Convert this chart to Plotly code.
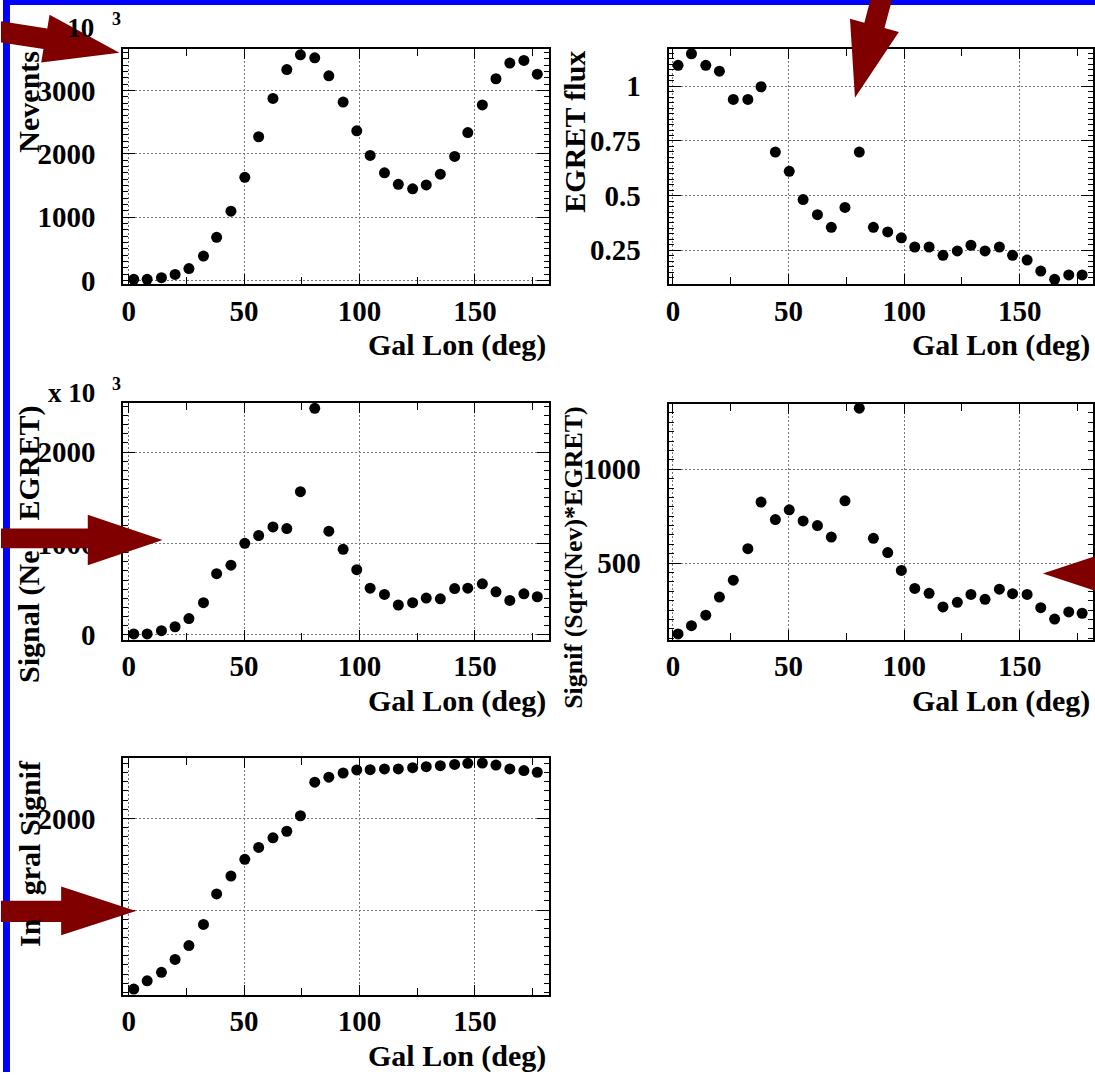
import plotly.graph_objects as go

W, H = 1095, 1085

# ---------------- data ----------------
gal_lon = [2.2, 8.0, 14.2, 20.1, 26.1, 32.4, 38.1, 44.3, 50.3, 56.3, 62.5, 68.5, 74.4, 80.6, 86.7,
           92.9, 98.8, 104.6, 110.8, 116.8, 123.0, 128.9, 135.0, 141.2, 146.9, 153.2, 159.1, 165.1, 171.2, 177.0]

nevents = [21, 21, 47, 98, 191, 388, 683, 1097, 1630, 2271, 2876, 3332, 3564, 3518, 3233,
           2819, 2364, 1976, 1702, 1521, 1449, 1511, 1681, 1961, 2338, 2773, 3187, 3435, 3476, 3259]

egret_flux = [1.096, 1.149, 1.096, 1.069, 0.940, 0.940, 0.998, 0.699, 0.611, 0.482, 0.413, 0.355, 0.446, 0.699, 0.355,
              0.334, 0.307, 0.265, 0.265, 0.227, 0.247, 0.273, 0.247, 0.265, 0.227, 0.205, 0.155, 0.117, 0.137, 0.137]

signal = [11, 11, 47, 90, 180, 353, 670, 764, 1002, 1088, 1182, 1164, 1568, 2479, 1135,
          937, 714, 512, 443, 328, 353, 404, 396, 508, 512, 559, 472, 378, 450, 418]

signif = [123, 167, 223, 319, 409, 577, 825, 732, 784, 725, 700, 639, 832, 1325, 632,
          556, 461, 365, 339, 267, 291, 333, 307, 361, 337, 333, 263, 202, 240, 233]

integral_signif = [137, 227, 320, 460, 612, 842, 1176, 1371, 1554, 1683, 1788, 1860, 2029, 2396, 2450,
                   2496, 2529, 2532, 2540, 2540, 2554, 2565, 2576, 2590, 2601, 2604, 2583, 2540, 2522, 2504]

x_ticks = [0, 50, 100, 150]
x_title = "Gal Lon (deg)"

panels = [
    dict(y=nevents, ytitle="Nevents", yrange=[-51, 3661], yticks=[0, 1000, 2000, 3000], ydt=100),
    dict(y=egret_flux, ytitle="EGRET flux", yrange=[0.0964, 1.172], yticks=[0.25, 0.5, 0.75, 1], ydt=0.025),
    dict(y=signal, ytitle="Signal (Nev*EGRET)", yrange=[-50, 2533], yticks=[0, 1000, 2000], ydt=100),
    dict(y=signif, ytitle="Signif (Sqrt(Nev)*EGRET)", yrange=[93, 1347], yticks=[500, 1000], ydt=50),
    dict(y=integral_signif, ytitle="Integral Signif", yrange=[76, 2665], yticks=[1000, 2000], ydt=100),
]

# ---------------- layout geometry (pixels) ----------------
frames = [
    (120.7, 547.1, 49.3, 287.3, [-2.3, 181.9]),
    (667.4, 1093.0, 49.3, 287.3, [-1.9, 181.7]),
    (120.7, 547.1, 408.3, 647.3, [-2.3, 181.9]),
    (667.4, 1093.0, 409.0, 647.3, [-1.9, 181.7]),
    (120.7, 547.1, 766.7, 1006.7, [-2.3, 181.9]),
]


def X(px):
    return px / W


def Y(py):
    return 1 - py / H


FONT = "Liberation Serif"
tickfont = dict(family=FONT, size=29, color="black", weight="bold")

fig = go.Figure()
layout = dict(
    width=W, height=H,
    margin=dict(l=0, r=0, t=0, b=0),
    paper_bgcolor="white", plot_bgcolor="white",
    showlegend=False,
    font=dict(family=FONT, color="black"),
)

annotations = []

for i, (p, fr) in enumerate(zip(panels, frames)):
    n = "" if i == 0 else str(i + 1)
    x0, x1, y0, y1, xr = fr
    fig.add_trace(go.Scatter(
        x=gal_lon, y=p["y"], mode="markers",
        marker=dict(color="black", size=11, line=dict(width=0)),
        xaxis="x" + n, yaxis="y" + n, cliponaxis=False,
    ))
    layout["xaxis" + n] = dict(
        domain=[X(x0), X(x1)], range=xr, anchor="y" + n,
        tickvals=x_ticks, ticks="inside", ticklen=10, tickwidth=1, tickcolor="black",
        minor=dict(dtick=25, tick0=0, ticks="inside", ticklen=7, tickcolor="black", showgrid=False),
        showline=True, linecolor="black", linewidth=2, mirror="ticks",
        showgrid=True, gridcolor="#777777", gridwidth=1, griddash="2px,2px",
        zeroline=False, tickfont=tickfont, ticklabelstandoff=0,
    )
    layout["yaxis" + n] = dict(
        domain=[Y(y1), Y(y0)], range=p["yrange"], anchor="x" + n,
        tickvals=p["yticks"], ticks="inside", ticklen=12, tickwidth=1, tickcolor="black",
        minor=dict(dtick=p["ydt"], ticks="inside", ticklen=5, tickcolor="black", showgrid=False),
        showline=True, linecolor="black", linewidth=2, mirror="ticks",
        showgrid=True, gridcolor="#777777", gridwidth=1, griddash="2px,2px",
        zeroline=False, tickfont=tickfont, ticklabelstandoff=20,
    )
    # x axis title, right-aligned to frame
    annotations.append(dict(
        text="<b>" + x_title + "</b>", x=X(x1 - 1), y=Y(y1 + 62), xref="paper", yref="paper",
        xanchor="right", yanchor="middle", showarrow=False,
        font=dict(family=FONT, size=30, color="black"),
    ))

# y axis titles (rotated, aligned with frame top)
ytitle_pos = [(26.0, 49.3, 30), (573.5, 49.3, 30), (26.6, 408.3, 30), (572.5, 408.3, 26), (26.0, 766.7, 30)]
ytitle_text = [
    "Nevents",
    "EGRET flux",
    "Signal (Ne<span style='color:rgba(0,0,0,0)'>v*</span>EGRET)",
    "Signif (Sqrt(Nev)*EGRET)",
    "In<span style='color:rgba(0,0,0,0)'>te</span>gral Signif",
]
for (cx, ty, fs), t in zip(ytitle_pos, ytitle_text):
    annotations.append(dict(
        text="<b>" + t + "</b>", x=X(cx), y=Y(ty), xref="paper", yref="paper",
        xanchor="center", yanchor="top", textangle=-90, showarrow=False,
        font=dict(family=FONT, size=fs, color="black"),
    ))

# "x 10^3" exponent labels
for (rx, cy, ex, ey, hide_x) in [(93.5, 28.0, 114.0, 19.0, True), (94.6, 397.5, 113.5, 389.0, False)]:
    xt = "<span style='color:rgba(0,0,0,0)'>x</span> 10" if hide_x else "x 10"
    annotations.append(dict(
        text="<b>" + xt + "</b>", x=X(rx), y=Y(cy), xref="paper", yref="paper",
        xanchor="right", yanchor="middle", showarrow=False,
        font=dict(family=FONT, size=27, color="black"),
    ))
    annotations.append(dict(
        text="<b>3</b>", x=X(ex), y=Y(ey), xref="paper", yref="paper",
        xanchor="center", yanchor="middle", showarrow=False,
        font=dict(family=FONT, size=18, color="black"),
    ))

layout["annotations"] = annotations


def poly(pts):
    return "M " + " L ".join(f"{X(a):.5f},{Y(b):.5f}" for a, b in pts) + " Z"


ARROW = "#800000"
shapes = [
    dict(type="rect", xref="paper", yref="paper", x0=0, x1=1, y0=Y(5), y1=1,
         fillcolor="#0000ff", line=dict(width=0), layer="above"),
    dict(type="rect", xref="paper", yref="paper", x0=0, x1=X(7), y0=0, y1=1,
         fillcolor="#0000ff", line=dict(width=0), layer="above"),
]
arrows = [
    [(-2, 21.4), (44.4, 28.8), (46.7, 15.0), (116.7, 53.3), (38.3, 63.3), (40.6, 49.6), (-2, 42.9)],
    [(870.0, -1), (891.7, -1), (883.9, 28.4), (898.3, 32.3), (854.3, 99.0), (849.3, 19.1), (863.7, 23.0)],
    [(-2, 535.0), (85.0, 535.0), (85.0, 521.0), (160.0, 546.5), (85.0, 572.0), (85.0, 555.0), (-2, 555.0)],
    [(1042.7, 580.5), (1120.0, 554.6), (1120.0, 606.4)],
    [(-2, 911.7), (58.3, 911.7), (58.3, 897.3), (133.3, 922.0), (58.3, 946.7), (58.3, 933.3), (-2, 933.3)],
]
for a in arrows:
    shapes.append(dict(type="path", xref="paper", yref="paper", path=poly(a),
                       fillcolor=ARROW, line=dict(width=0), layer="above"))
layout["shapes"] = shapes

fig.update_layout(**layout)
fig.write_html("out.html")
